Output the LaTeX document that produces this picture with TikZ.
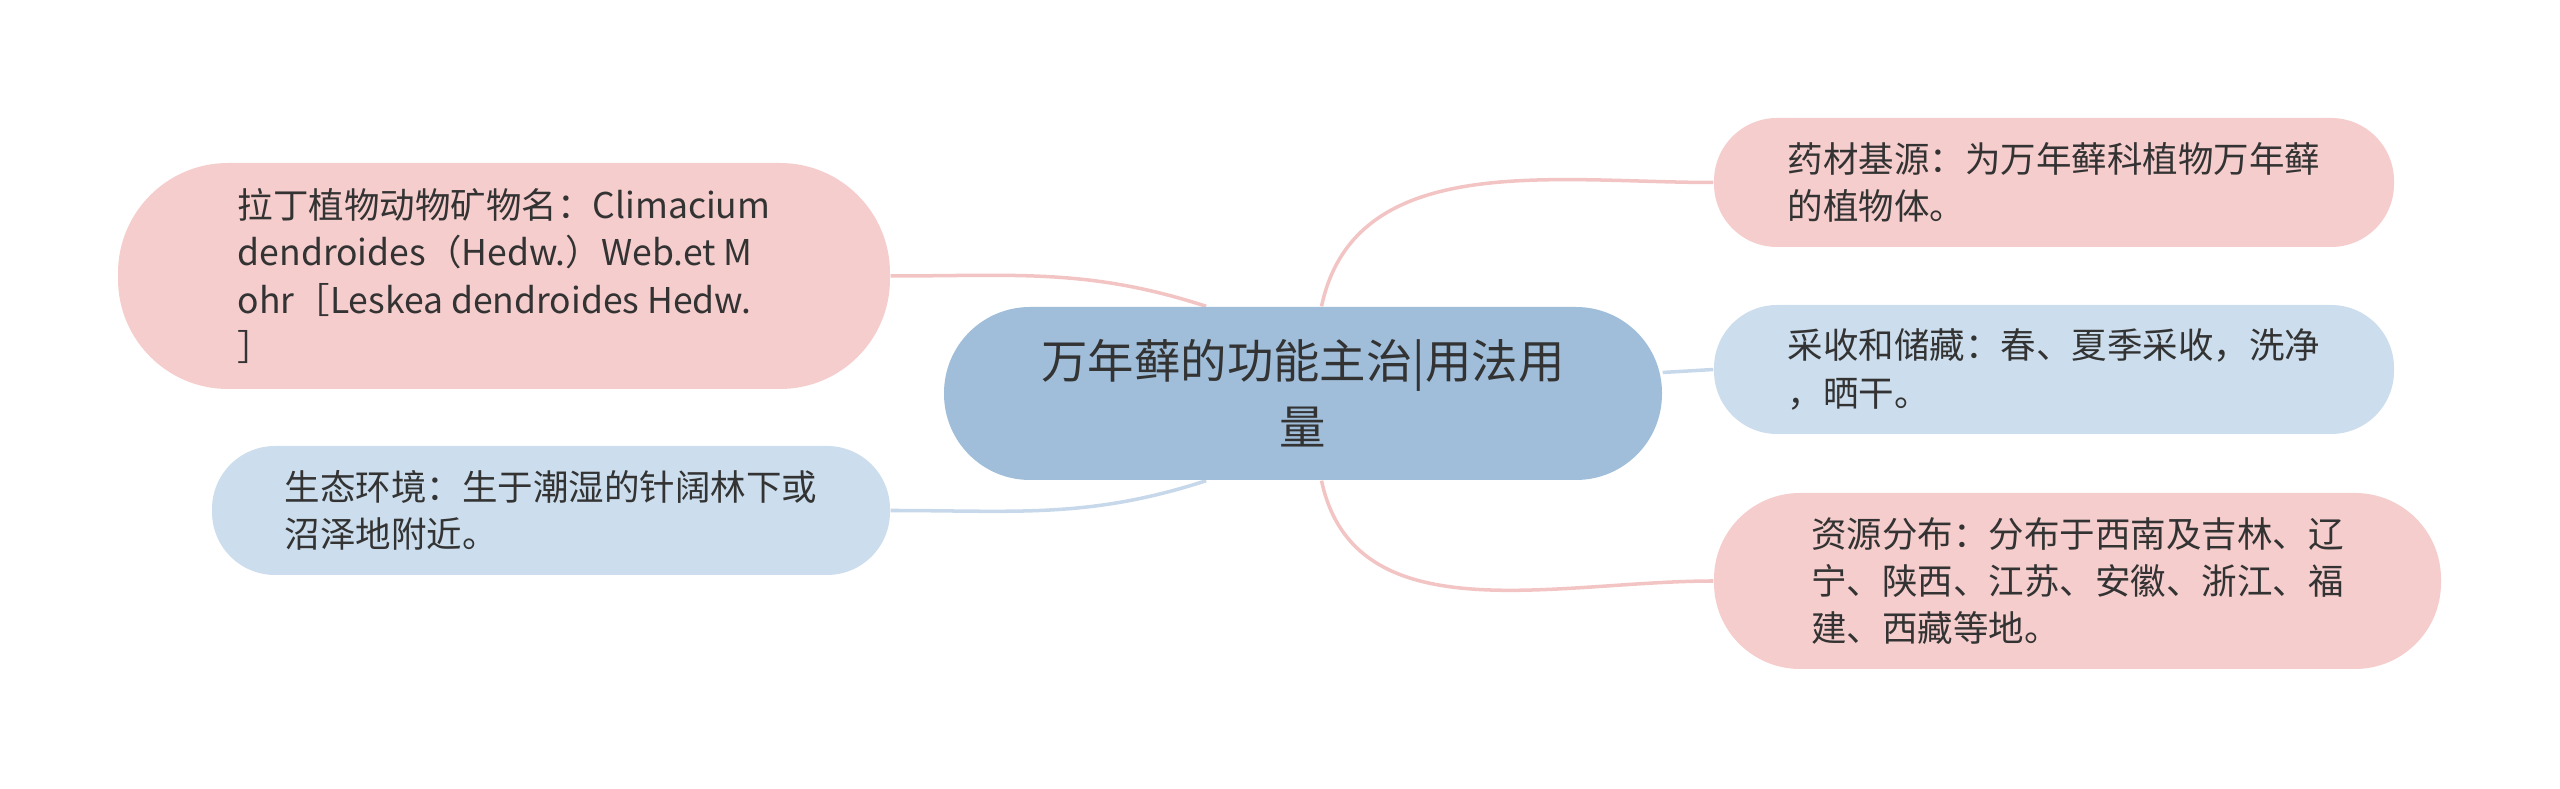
\documentclass[tikz,border=0pt]{standalone}
\usepackage{fontspec}
\setmainfont{Noto Sans CJK SC}
\usepackage{tikz}
\usetikzlibrary{backgrounds}
\definecolor{pinkfill}{HTML}{F6CDCD}
\definecolor{bluefill}{HTML}{CCDDED}
\definecolor{rootfill}{HTML}{A0BEDA}
\definecolor{pinkline}{HTML}{F2C4C4}
\definecolor{blueline}{HTML}{C6D8EA}
\definecolor{textgray}{HTML}{333333}
\tikzstyle{node_root} = [fill=rootfill, rounded corners=0.86cm, minimum width=7.18cm, minimum height=1.73cm, align=center, text=textgray, font=\fontsize{13.2pt}{18.7pt}\selectfont]
\tikzstyle{node_pink} = [fill=pinkfill, rounded corners=0.63cm, minimum width=6.8cm, minimum height=1.29cm, align=left, text=textgray, font=\fontsize{10.1pt}{13.4pt}\selectfont]
\tikzstyle{node_blue} = [node_pink, fill=bluefill]
\tikzstyle{edge_pink} = [draw=pinkline, line width=1pt]
\tikzstyle{edge_blue} = [draw=blueline, line width=1pt]

\begin{document}
\begin{tikzpicture}
			\useasboundingbox (0,0) rectangle (25.6,-7.89);
			\node (root) at (13.03,-3.935) [node_root] {万年藓的功能主治|用法用\\量};
			\node (latin) at (5.04,-2.76) [node_pink, minimum width=7.72cm, minimum height=2.26cm, rounded corners=1.1cm] {拉丁植物动物矿物名：Climacium\\dendroides（Hedw.）Web.et M\\ohr［Leskea dendroides Hedw.\\］};
			\node (habitat) at (5.51,-5.105) [node_blue, minimum width=6.78cm] {生态环境：生于潮湿的针阔林下或\\沼泽地附近。};
			\node (origin) at (20.54,-1.825) [node_pink] {药材基源：为万年藓科植物万年藓\\的植物体。};
			\node (harvest) at (20.54,-3.695) [node_blue] {采收和储藏：春、夏季采收，洗净\\，晒干。};
			\node (range) at (20.775,-5.81) [node_pink, minimum width=7.27cm, minimum height=1.76cm, rounded corners=0.86cm] {资源分布：分布于西南及吉林、辽\\宁、陕西、江苏、安徽、浙江、福\\建、西藏等地。};
			
			\begin{scope}[on background layer]
			\draw[edge_pink] (root) to[out=78,in=180] (origin.west);
			\draw[edge_blue] (root) -- (harvest.west);
			\draw[edge_pink] (root) to[out=-78,in=180] (range.west);
			\draw[edge_pink] (root.138) to[out=162,in=0] (latin.east);
			\draw[edge_blue] (root.-138) to[out=-162,in=0] (habitat.east);
			\end{scope}
		\end{tikzpicture}
\end{document}
